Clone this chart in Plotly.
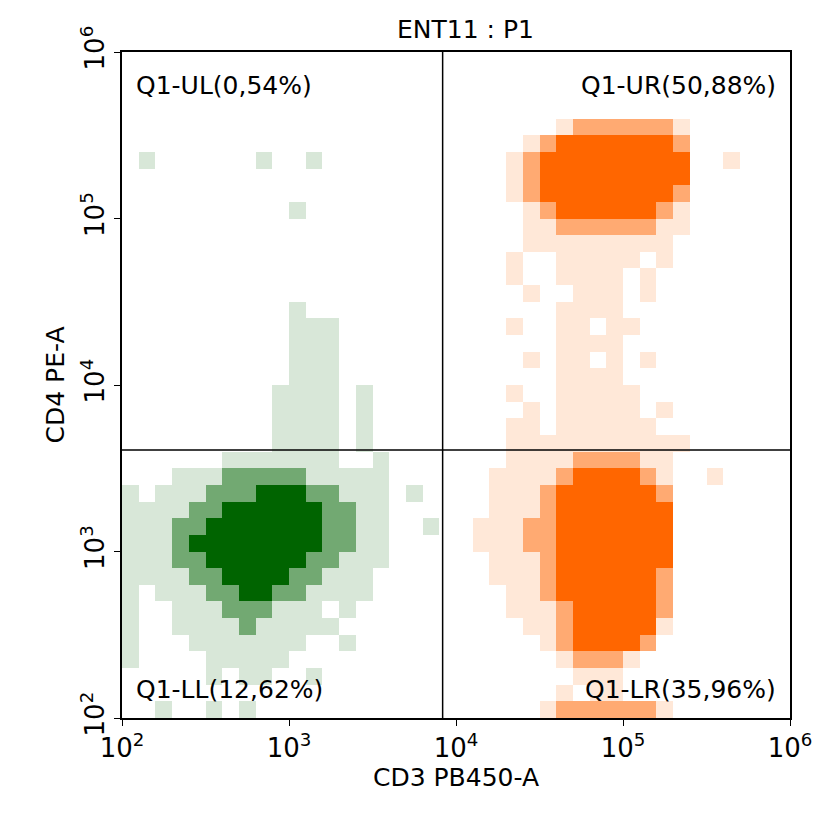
import numpy as np
import plotly.graph_objects as go

# density grid: 0.1-decade cells, log10 x 2.0..6.0 (cols), log10 y 6.0..2.0 (rows, top first)
# '.'=empty, '1'=sparse, '2'=medium, '3'=dense
GREEN_ROWS = [
    "....................", "....................", "....................", "....................",
    "....................", "....................", ".1......1..1........", "....................",
    "....................", "..........1.........", "....................", "....................",
    "....................", "....................", "....................", "..........1.........",
    "..........111.......", "..........111.......", "..........111.......", "..........111.......",
    ".........1111.1.....", ".........1111.1.....", ".........1111.1.....", ".........1111.1.....",
    "......1111111..1....", "...1112222211111....", "1.11122233322111.1..", "1111223333332211....",
    "1112233333332211..1.", "1112333333332211....", "1112233333322111....", "111122333322111.....",
    "1.1112233221111.....", "1..111222111.1......", "1..1111211111.......", "1...1111111..1......",
    "1....11111..........", ".....1.11..1........", "....................", "..1..1.1............",
]
ORANGE_ROWS = [
    "....................", "....................", "....................", "....................",
    "......12222221......", "....1233333332......", "...12333333333..1...", "...12333333333......",
    "...12333333332......", "....1233333321......", "....1122222211......", "....111111111.......",
    "...1..11111.1.......", "...1..1111.1........", "....1..111.1........", "......1111..........",
    "...1..11.11.........", "......1111..........", "....1.11.1.1........", "......1111..........",
    "...1..11111.........", "....1.11111.1.......", "...11.111111........", "...11111111111......",
    "...1111222211.......", "..11112333321..1....", "..11123333332.......", "..11123333333.......",
    ".111223333333.......", ".111223333333.......", "..11123333333.......", "..11123333332.......",
    "...1123333332.......", "...1112333332.......", "....112333331.......", ".....1233332........",
    "......12221.........", ".......111..........", "......1.11..........", ".....12222221.......",
]
QUAD_LABELS = ["Q1-UL(0,54%)", "Q1-UR(50,88%)", "Q1-LL(12,62%)", "Q1-LR(35,96%)"]
GATE_X = 3.92  # log10
GATE_Y = 3.61
TICKS = [2, 3, 4, 5, 6]


def to_z(rows, offset):
    z = np.full((40, 40), np.nan)
    for r, row in enumerate(rows):
        for j, ch in enumerate(row):
            if ch != '.':
                z[r, j + offset] = int(ch)
    return z


xc = [2.05 + 0.1 * i for i in range(40)]
yc = [5.95 - 0.1 * i for i in range(40)]


def scale(rgb):
    r, g, b = rgb
    def tint(a):
        return f"rgb({int(255 - (255 - r) * a)},{int(255 - (255 - g) * a)},{int(255 - (255 - b) * a)})"
    return [[0, tint(0.15)], [0.5, tint(0.55)], [1, tint(1.0)]]


fig = go.Figure()
fig.add_trace(go.Heatmap(x=xc, y=yc, z=to_z(GREEN_ROWS, 0), zmin=1, zmax=3,
                         colorscale=scale((0, 100, 0)), showscale=False, hoverinfo='skip'))
fig.add_trace(go.Heatmap(x=xc, y=yc, z=to_z(ORANGE_ROWS, 20), zmin=1, zmax=3,
                         colorscale=scale((255, 102, 0)), showscale=False, hoverinfo='skip'))

fig.add_shape(type='line', x0=GATE_X, x1=GATE_X, y0=2, y1=6, line=dict(color='black', width=1.5))
fig.add_shape(type='line', x0=2, x1=6, y0=GATE_Y, y1=GATE_Y, line=dict(color='black', width=1.5))

font = dict(family="DejaVu Sans", size=25, color='black')
tickfont = dict(family="DejaVu Sans", size=26, color='black')
pos = [(2.07, 5.8, 'left'), (5.93, 5.8, 'right'), (2.07, 2.17, 'left'), (5.93, 2.17, 'right')]
for (x, y, anc), t in zip(pos, QUAD_LABELS):
    fig.add_annotation(x=x, y=y, text=t, showarrow=False, xanchor=anc, font=font)

ticktext = [f"10<sup>{t}</sup>" for t in TICKS]
fig.update_xaxes(range=[2, 6], tickvals=TICKS, ticktext=ticktext, showgrid=False, zeroline=False,
                 showline=True, mirror=True, linecolor='black', linewidth=1.5, automargin=False,
                 ticks='outside', ticklen=6, tickcolor='black', tickfont=tickfont,
                 title=dict(text="CD3 PB450-A", font=font, standoff=4))
fig.update_yaxes(range=[2, 6], tickvals=TICKS, ticktext=ticktext, showgrid=False, zeroline=False,
                 showline=True, mirror=True, linecolor='black', linewidth=1.5, automargin=False,
                 ticks='outside', ticklen=6, tickcolor='black', tickfont=tickfont, tickangle=-90,
                 title=dict(text="CD4 PE-A", font=font, standoff=4))
fig.update_layout(
    title=dict(text="ENT11 : P1", x=0.56, xanchor='center', y=0.985, font=font),
    width=817, height=823,
    margin=dict(l=114, r=35, t=44, b=113),
    plot_bgcolor='white', paper_bgcolor='white',
)
fig.write_html("out.html")
